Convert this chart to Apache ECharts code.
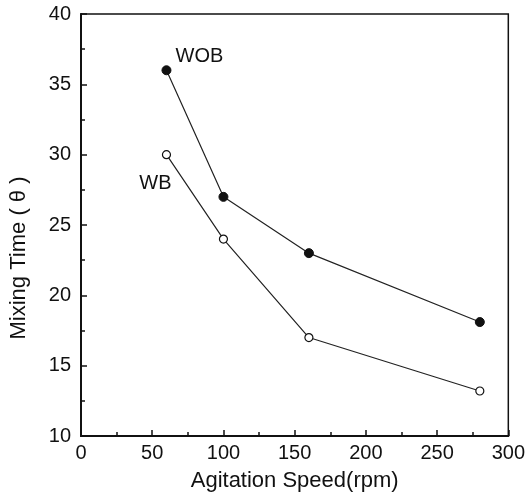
<!DOCTYPE html>
<html>
<head>
<meta charset="utf-8">
<script src="https://cdn.jsdelivr.net/npm/echarts@6/dist/echarts.min.js"></script>
<style>html,body{margin:0;padding:0;background:#fff;}#c{width:528px;height:501px;}</style>
</head>
<body>
<div id="c"></div>
<script>
var speeds = [60, 100, 160, 280];
var wob = [36, 27, 23, 18.1];
var wb = [30, 24, 17.0, 13.2];
var seriesNames = ['WOB', 'WB'];
var xTitle = 'Agitation Speed(rpm)';
var yTitle = 'Mixing Time ( \u03b8 )';

var font = 'Liberation Sans, Arial, sans-serif';

function pts(vals, name, off) {
  return speeds.map(function (s, i) {
    var d = { value: [s, vals[i]] };
    if (i === 0) {
      d.label = { show: true, formatter: name, position: 'inside', offset: off,
        color: '#111', fontSize: 20, fontFamily: font };
    }
    return d;
  });
}

var chart = echarts.init(document.getElementById('c'));
chart.setOption({
  animation: false,
  backgroundColor: '#fff',
  grid: { left: 80, right: 19, top: 14, bottom: 65, show: true, borderColor: '#111', borderWidth: 1.5, backgroundColor: 'transparent' },
  xAxis: {
    type: 'value', min: 0, max: 300, interval: 50,
    name: xTitle, nameLocation: 'middle', nameGap: 34,
    nameTextStyle: { color: '#111', fontSize: 22, fontFamily: font },
    axisLine: { show: true, onZero: false, lineStyle: { color: '#111', width: 2 } },
    axisTick: { show: true, inside: true, length: 6, lineStyle: { color: '#111', width: 1.5 } },
    minorTick: { show: true, splitNumber: 2, length: 4, lineStyle: { color: '#111', width: 1.5 } },
    axisLabel: { color: '#111', fontSize: 20, fontFamily: font, margin: 7 },
    splitLine: { show: false }
  },
  yAxis: {
    type: 'value', min: 10, max: 40, interval: 5,
    name: yTitle, nameLocation: 'middle', nameGap: 51,
    nameTextStyle: { color: '#111', fontSize: 22, fontFamily: font, padding: [0, 66, 0, 0] },
    axisLine: { show: true, onZero: false, lineStyle: { color: '#111', width: 2 } },
    axisTick: { show: true, inside: true, length: 6, lineStyle: { color: '#111', width: 1.5 } },
    minorTick: { show: true, splitNumber: 2, length: 4, lineStyle: { color: '#111', width: 1.5 } },
    axisLabel: { color: '#111', fontSize: 20, fontFamily: font, margin: 10 },
    splitLine: { show: false }
  },
  series: [
    {
      name: seriesNames[0], type: 'line', data: pts(wob, seriesNames[0], [33, -14]),
      symbol: 'circle', symbolSize: 9,
      itemStyle: { color: '#111', borderColor: '#111', borderWidth: 1 },
      lineStyle: { color: '#222', width: 1.2 }
    },
    {
      name: seriesNames[1], type: 'line', data: pts(wb, seriesNames[1], [-11, 29]),
      symbol: 'circle', symbolSize: 8,
      itemStyle: { color: '#fff', borderColor: '#111', borderWidth: 1.2 },
      lineStyle: { color: '#222', width: 1.2 }
    }
  ]
});
</script>
</body>
</html>
